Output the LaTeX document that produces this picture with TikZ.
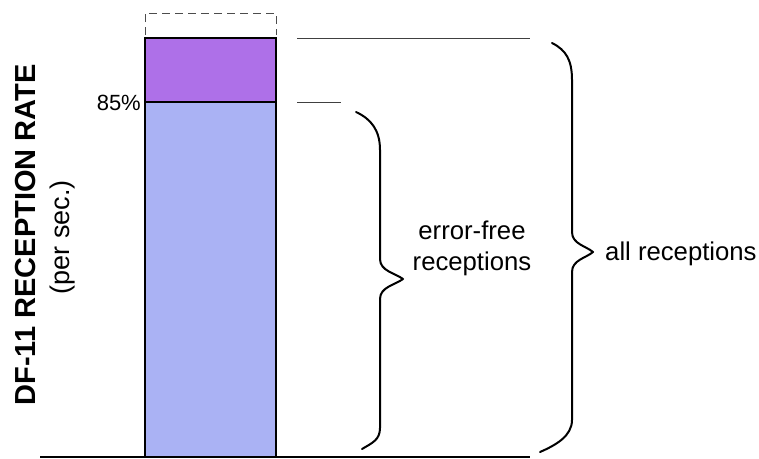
\documentclass[tikz,border=0pt]{standalone}
\usepackage{fontspec}
\setmainfont{Liberation Sans}
\definecolor{errpurple}{RGB}{174,112,232}
\definecolor{okblue}{RGB}{170,178,244}
\tikzset{
  barpart/.style={draw=black, line width=1.4pt},
  guide/.style={draw=black!75, line width=0.9pt},
  bracepath/.style={draw=black, line width=2pt, line join=round, line cap=round},
  lbl/.style={inner sep=0pt, font=\fontsize{25.7}{31}\selectfont},
}
\begin{document}
\begin{tikzpicture}[x=1pt, y=-1pt]
  \useasboundingbox (0,0) rectangle (759,458);

  % stacked bar: error-free share below, erroneous share above
  \fill[okblue] (145,102) rectangle (276,457);
  \fill[errpurple] (145,38) rectangle (276,102);
  \draw[barpart] (145,457) -- (145,38) -- (276,38) -- (276,457);
  \draw[barpart] (145,102) -- (276,102);

  % dashed headroom above the bar
  \draw[black!70, line width=1pt, dash pattern=on 8pt off 5pt]
    (145,35) -- (145,13) -- (276,13) -- (276,35);

  % base line
  \draw[black, line width=1.6pt] (40,457) -- (530,457);

  % guide lines from the bar edges
  \coordinate (topL) at (297,38);
  \coordinate (topR) at (530,38);
  \coordinate (midL) at (297,102);
  \coordinate (midR) at (341,102);
  \draw[guide] (topL) -- (topR);
  \draw[guide] (midL) -- (midR);

  % braces
  \coordinate (smallTip) at (403,279);
  \coordinate (bigTip) at (593,252);
  \draw[bracepath] (356,112) .. controls (371,119) and (380,130) .. (380,150)
    -- (380,259) .. controls (380,271) and (395,273) .. (smallTip)
    .. controls (395,285) and (380,287) .. (380,299)
    -- (380,428) .. controls (380,440) and (372,443) .. (362,449);
  \draw[bracepath] (552,43) .. controls (566,50) and (572,60) .. (572,80)
    -- (572,232) .. controls (572,244) and (586,246) .. (bigTip)
    .. controls (586,258) and (572,260) .. (572,272)
    -- (572,420) .. controls (572,436) and (556,445) .. (540,452);

  % labels
  \node[lbl, anchor=base east, font=\fontsize{22}{26}\selectfont] (pct) at (141,110) {85\%};
  \node[lbl, anchor=base, align=center] (errfree) at (472,270)
    {error-free\\receptions};
  \node[lbl, anchor=base west] (allrec) at (605,260) {all receptions};
  \node[lbl, anchor=base, rotate=90, font=\bfseries\fontsize{29}{33}\selectfont]
    (ylab) at (35,235) {DF-11 RECEPTION RATE};
  \node[lbl, anchor=base, rotate=90, font=\fontsize{27}{31}\selectfont]
    (yunit) at (69,237) {(per sec.)};
\end{tikzpicture}
\end{document}
